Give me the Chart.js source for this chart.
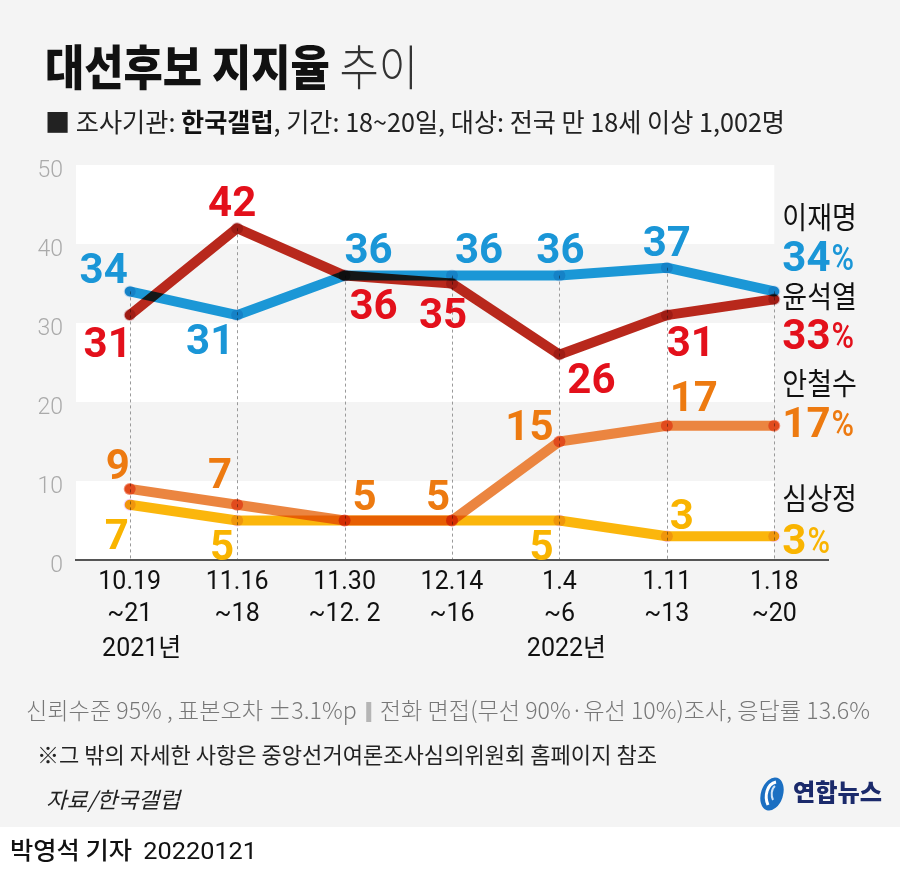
<!DOCTYPE html>
<html><head><meta charset="utf-8">
<script src="https://cdn.jsdelivr.net/npm/chart.js@4.4.1/dist/chart.umd.min.js"></script>
<style>
html,body{margin:0;padding:0;background:#fff;width:900px;height:875px;overflow:hidden;}
#bg{position:absolute;left:0;top:0;width:900px;height:827px;background:#f4f4f4;}
#c{position:absolute;left:0;top:0;}
.t{position:absolute;white-space:nowrap;transform-origin:0 0;font-family:'Noto Sans CJK KR',sans-serif;line-height:1;}
.sep{display:inline-block;width:5px;height:20px;background:#b5b5b5;vertical-align:-3px;margin:0 9px;}
</style></head><body>
<div id="bg"></div>
<canvas id="c" width="900" height="875"></canvas>

<div class="t" data-w="373" data-cy="67" style="left:45px;font-size:48px;color:#111;"><span style="font-weight:900">대선후보 지지율</span> <span style="font-weight:300;color:#333">추이</span></div>
<div class="t" data-w="740" data-cy="123" style="left:45px;font-size:26px;color:#222;font-weight:400">■ 조사기관: <b style="font-weight:700;color:#111">한국갤럽</b>, 기간: 18~20일, 대상: 전국 만 18세 이상 1,002명</div>

<div class="t" data-w="844" data-cy="711" style="left:26px;font-size:23px;color:#777;font-weight:300">신뢰수준 95% , 표본오차 ±3.1%p<span class="sep"></span>전화 면접(무선 90%·유선 10%)조사, 응답률 13.6%</div>
<div class="t" data-w="620" data-cy="754" style="left:37px;font-size:22px;color:#222;font-weight:400">※그 밖의 자세한 사항은 중앙선거여론조사심의위원회 홈페이지 참조</div>
<div class="t" data-w="134" data-cy="799" style="left:46px;font-size:22px;color:#222;font-weight:400;font-style:italic">자료/한국갤럽</div>
<svg style="position:absolute;left:757px;top:774px" width="30" height="40" viewBox="0 0 30 40">
  <ellipse cx="15" cy="20" rx="11" ry="17" transform="rotate(18 15 20)" fill="#1b6fc2"/>
  <path d="M19 8 C10 10 7 22 11 31" stroke="#fff" stroke-width="3" fill="none"/>
  <path d="M18 12 C14 15 14 22 16 26" stroke="#cfe3f7" stroke-width="2" fill="none"/>
</svg>
<div class="t" data-w="89" data-cy="792" style="left:793px;font-size:24px;color:#1b2a6b;font-weight:900">연합뉴스</div>

<div class="t" data-w="247" data-cy="850" style="left:10px;font-size:24px;color:#111;font-weight:500">박영석 기자&nbsp; <span style="font-family:Roboto,sans-serif;font-weight:400">20220121</span></div>

<script>
// ---- data ----
const categories = [["10.19","~21"],["11.16","~18"],["11.30","~12. 2"],["12.14","~16"],["1.4","~6"],["1.11","~13"],["1.18","~20"]];
const yearLabels = ["2021년","","","","2022년","",""];
const candidateNames = ["이재명","윤석열","안철수","심상정"];
const leeJaeMyung  = [34, 31, 36, 36, 36, 37, 34];
const yoonSeokYeol = [31, 42, 36, 35, 26, 31, 33];
const ahnCheolSoo  = [9, 7, 5, 5, 15, 17, 17];
const simSangJung  = [7, 5, 5, 5, 5, 3, 3];
const yTickValues  = [0, 10, 20, 30, 40, 50];

// ---- styling (positions of annotations relative to points) ----
const styles = [
  {line:'#1b97d6', point:'#c6dbee', label:'#1a96d7',
   offs:[[-26,-23],[-27,24],[24,-28],[27,-28],[1,-28],[0,-27],null], nameDy:-74, valDy:-35},
  {line:'#b8281c', point:'#dcb0b4', label:'#e3101b',
   offs:[[-22,27],[-5,-27],[29,28],[-9,29],[32,23],[24,26],null], nameDy:-3, valDy:35},
  {line:'#eb8540', point:'#f59074', label:'#ed7a10',
   offs:[[-12,-25],[-17,-32],[20,-26],[-14,-26],[-30,-17],[27,-30],null], nameDy:-43, valDy:-4},
  {line:'#fbb60c', point:'#f4d2ff', label:'#f9b400',
   offs:[[-13,29],[-15,24],null,null,[-18,24],[15,-22],null], nameDy:-38, valDy:3}
];
const yearOffsets = [12,0,0,0,7,0,0];
const whiteBands = [[0,10],[20,30],[40,50]];
const seriesData = [leeJaeMyung, yoonSeokYeol, ahnCheolSoo, simSangJung];

Chart.defaults.font.family = "Roboto, 'Noto Sans CJK KR', sans-serif";

const deco = {
  id:'deco',
  beforeDraw(chart){
    const {ctx, chartArea:a, scales:{x,y}} = chart;
    const xr = x.getPixelForValue(categories.length-1);
    ctx.save();
    ctx.fillStyle = '#ffffff';
    whiteBands.forEach(([lo,hi])=>{
      const t = y.getPixelForValue(hi), b = y.getPixelForValue(lo);
      ctx.fillRect(a.left, t, xr - a.left, b - t);
    });
    ctx.strokeStyle = '#9a9a9a'; ctx.lineWidth = 1; ctx.setLineDash([3,3]);
    categories.forEach((c,i)=>{
      const px = Math.round(x.getPixelForValue(i)) + 0.5;
      const top = y.getPixelForValue(Math.max(...seriesData.map(s=>s[i])));
      ctx.beginPath(); ctx.moveTo(px, top); ctx.lineTo(px, a.bottom); ctx.stroke();
    });
    ctx.restore();
  },
  beforeDatasetsDraw(chart){ chart.ctx.globalCompositeOperation = 'multiply'; },
  afterDatasetsDraw(chart){
    const ctx = chart.ctx;
    ctx.globalCompositeOperation = 'source-over';
    const {scales:{x}} = chart;
    ctx.save();
    ctx.textAlign = 'center'; ctx.textBaseline = 'alphabetic';
    chart.data.datasets.forEach((ds, di)=>{
      const meta = chart.getDatasetMeta(di);
      const st = styles[di];
      ds.data.forEach((v,i)=>{
        const o = st.offs[i]; if(!o) return;
        const p = meta.data[i];
        ctx.font = "700 42px Roboto";
        ctx.fillStyle = st.label;
        ctx.fillText(String(v), p.x + o[0], p.y + o[1] + 15);
      });
      // right legend
      const last = ds.data.length - 1;
      const p = meta.data[last];
      const lx = p.x + 8;
      ctx.textAlign = 'left';
      ctx.save();
      ctx.translate(lx, p.y + st.nameDy + 11);
      ctx.scale(0.9, 1);
      ctx.font = "400 30px 'Noto Sans CJK KR'";
      ctx.fillStyle = '#111';
      ctx.fillText(ds.label, 0, 0);
      ctx.restore();
      ctx.font = "700 42px Roboto";
      ctx.fillStyle = st.label;
      const vs = String(ds.data[last]);
      ctx.fillText(vs, lx, p.y + st.valDy + 15);
      const w = ctx.measureText(vs).width;
      ctx.save();
      ctx.translate(lx + w + 1, p.y + st.valDy + 14);
      ctx.scale(0.85, 1);
      ctx.font = "500 36px Roboto";
      ctx.fillText('%', 0, 0);
      ctx.restore();
      ctx.textAlign = 'center';
    });
    ctx.font = "400 25px Roboto, 'Noto Sans CJK KR'";
    ctx.fillStyle = '#111';
    ctx.textAlign = 'center'; ctx.textBaseline = 'middle';
    yearLabels.forEach((t,i)=>{
      if(!t) return;
      ctx.fillText(t, x.getPixelForValue(i) + yearOffsets[i], 650);
    });
    ctx.restore();
  }
};

new Chart(document.getElementById('c'), {
  type:'line',
  data:{
    labels: categories,
    datasets: seriesData.map((d,i)=>({
      label: candidateNames[i],
      data: d,
      borderColor: styles[i].line,
      backgroundColor: styles[i].point,
      pointBackgroundColor: styles[i].point,
      pointBorderWidth: 0,
      pointRadius: 6,
      borderWidth: 10,
      borderCapStyle: 'round',
      borderJoinStyle: 'round',
      tension: 0,
      fill: false,
      clip: false
    }))
  },
  options:{
    responsive:false, animation:false, devicePixelRatio:1,
    layout:{padding:{left:0, right:72, top:165, bottom:215}},
    scales:{
      x:{
        offset:true,
        grid:{display:false, drawTicks:false},
        border:{display:true, color:'#555', width:2},
        ticks:{color:'#111', font:{size:25, weight:400, lineHeight:1.28}, padding:7, maxRotation:0, autoSkip:false},
        afterFit(s){ s.height = 100; }
      },
      y:{
        min:0, max:50,
        afterBuildTicks(s){ s.ticks = yTickValues.map(v=>({value:v})); },
        grid:{display:false, drawTicks:false},
        border:{display:false},
        ticks:{color:'#aaa', font:{size:23, weight:300}, padding:13, labelOffset:6},
        afterFit(s){ s.width = 76; }
      }
    },
    plugins:{legend:{display:false}, tooltip:{enabled:false}}
  },
  plugins:[deco]
});

document.querySelectorAll('.t').forEach(el=>{
  const fs = parseFloat(getComputedStyle(el).fontSize);
  const w = el.getBoundingClientRect().width;
  el.style.top = (+el.dataset.cy - 0.56*fs) + 'px';
  el.style.transform = 'scaleX(' + (+el.dataset.w / w) + ')';
});
</script>
</body></html>
